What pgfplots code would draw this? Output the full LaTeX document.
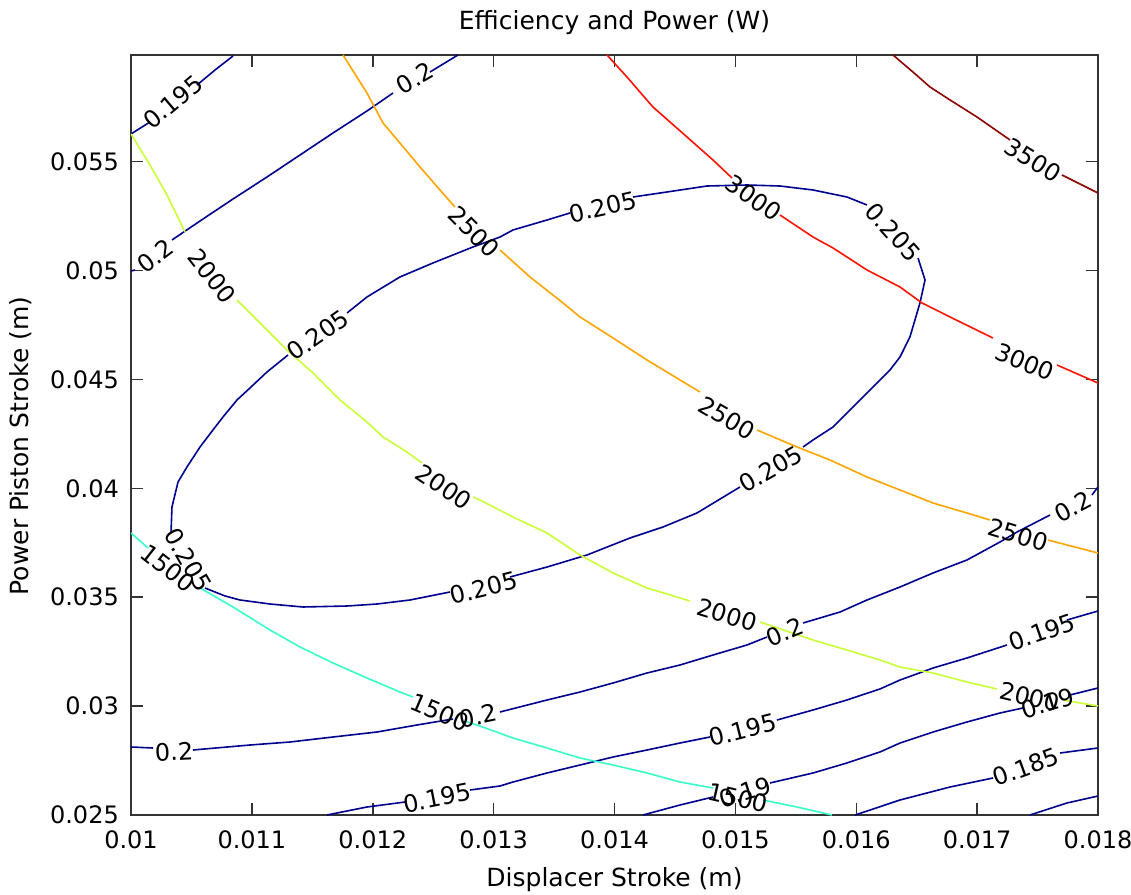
\documentclass[border=0pt]{standalone}
\usepackage{fontspec}
\setmainfont{DejaVu Sans}
\usepackage{pgfplots}
\pgfplotsset{compat=1.18}
\definecolor{effblue}{rgb}{0,0,0.5625}
\definecolor{pw1500}{rgb}{0.2143,1,0.7857}
\definecolor{pw2000}{rgb}{0.7857,1,0.2143}
\definecolor{pw2500}{rgb}{1,0.6429,0}
\definecolor{pw3000}{rgb}{1,0.0714,0}
\definecolor{pw3500}{rgb}{0.55,0,0}
\newcommand{\lblfont}{\fontsize{24}{24}\selectfont}
\newcommand{\ttlfont}{\fontsize{25}{25}\selectfont}
\tikzset{
  eff/.style={draw=effblue, line width=1.6pt, mark=none},
  p15/.style={draw=pw1500, line width=1.6pt, mark=none},
  p20/.style={draw=pw2000, line width=1.6pt, mark=none},
  p25/.style={draw=pw2500, line width=1.6pt, mark=none},
  p30/.style={draw=pw3000, line width=1.6pt, mark=none},
  p35/.style={draw=pw3500, line width=1.6pt, mark=none},
  clab/.style={font=\lblfont, inner sep=0pt, anchor=center, text=black},
}
\begin{document}
\begin{tikzpicture}
\begin{axis}[
  at={(0pt,0pt)}, anchor=south west,
  scale only axis, width=967pt, height=760pt,
  xmin=0.01, xmax=0.018, ymin=0.025, ymax=0.0599,
  xtick={0.01,0.011,0.012,0.013,0.014,0.015,0.016,0.017,0.018},
  xticklabels={0.01,0.011,0.012,0.013,0.014,0.015,0.016,0.017,0.018},
  ytick={0.025,0.03,0.035,0.04,0.045,0.05,0.055},
  yticklabels={0.025,0.03,0.035,0.04,0.045,0.05,0.055},
  scaled ticks=false,
  tick align=inside, tick pos=both,
  major tick length=12pt,
  tick style={black!80, line width=1.5pt},
  axis line style={black!80, line width=1.8pt},
  ticklabel style={font=\lblfont},
  xticklabel style={anchor=base, inner sep=0pt, yshift=-33pt},
  yticklabel style={anchor=east, inner sep=0pt, xshift=-12pt},
  title={Efficiency and Power (W)},
  xlabel={Displacer Stroke (m)},
  ylabel={Power Piston Stroke (m)},
  every axis title/.style={at={(axis description cs:0.5,1)}, anchor=base, yshift=25pt, font=\ttlfont},
  every axis x label/.style={at={(axis description cs:0.5,0)}, anchor=base, yshift=-71pt, font=\ttlfont},
  every axis y label/.style={at={(axis description cs:-0.1065,0.4855)}, rotate=90, anchor=base, font=\ttlfont},
  no markers,
]
% ---------------- efficiency contours ----------------
% 0.195 (upper left)
\addplot[eff] coordinates {(0.010000,0.056272) (0.010157,0.056823)};
\addplot[eff] coordinates {(0.010546,0.058522) (0.010695,0.059211) (0.010844,0.059854)};
% 0.2 (upper)
\addplot[eff] coordinates {(0.010000,0.049981) (0.010033,0.050027)};
\addplot[eff] coordinates {(0.010339,0.051405) (0.010571,0.052277) (0.010844,0.053287) (0.011125,0.054298) (0.011398,0.055308) (0.011671,0.056318) (0.011952,0.057328) (0.012168,0.058155)};
\addplot[eff] coordinates {(0.012474,0.059119) (0.012705,0.059900)};
% 0.205 (closed loop)
\addplot[eff] coordinates {(0.011787,0.048052) (0.011952,0.048787) (0.012225,0.049706) (0.012498,0.050348) (0.012829,0.051083) (0.013053,0.051542) (0.013160,0.051864) (0.013442,0.052323) (0.013632,0.052645)};
\addplot[eff] coordinates {(0.014153,0.053379) (0.014434,0.053609) (0.014765,0.053884) (0.015096,0.053930) (0.015369,0.053884) (0.015642,0.053701) (0.015923,0.053379) (0.016089,0.053012)};
\addplot[eff] coordinates {(0.016511,0.050578) (0.016569,0.049568) (0.016527,0.048512) (0.016444,0.046950) (0.016362,0.046032) (0.016279,0.045435) (0.016139,0.044654) (0.015948,0.043598) (0.015808,0.042817) (0.015642,0.042220) (0.015560,0.041899)};
\addplot[eff] coordinates {(0.015038,0.040062) (0.014682,0.038868) (0.014401,0.038225) (0.014128,0.037720) (0.013772,0.036939) (0.013442,0.036388) (0.013135,0.035929)};
\addplot[eff] coordinates {(0.012639,0.035240) (0.012308,0.034873) (0.012035,0.034689) (0.011787,0.034597) (0.011423,0.034552) (0.011150,0.034689) (0.010902,0.034873) (0.010778,0.035057) (0.010612,0.035424)};
\addplot[eff] coordinates {(0.010331,0.037950) (0.010339,0.039144) (0.010389,0.040292) (0.010463,0.040981) (0.010571,0.041899) (0.010678,0.042680) (0.010761,0.043277) (0.010877,0.044057) (0.010984,0.044608) (0.011125,0.045343) (0.011299,0.046124)};
% 0.2 (lower)
\addplot[eff] coordinates {(0.010000,0.028123) (0.010182,0.028077)};
\addplot[eff] coordinates {(0.010513,0.027985) (0.010984,0.028214) (0.011315,0.028352) (0.011671,0.028582) (0.012035,0.028811) (0.012366,0.029133) (0.012664,0.029408)};
\addplot[eff] coordinates {(0.013053,0.029730) (0.013442,0.030281) (0.013715,0.030648) (0.013988,0.031062) (0.014269,0.031521) (0.014542,0.031888) (0.014815,0.032347) (0.015096,0.032807) (0.015262,0.033174)};
\addplot[eff] coordinates {(0.015560,0.033817) (0.015866,0.034322) (0.016089,0.034873) (0.016362,0.035470) (0.016635,0.036113) (0.016916,0.036710) (0.017189,0.037536) (0.017330,0.037996) (0.017603,0.038776)};
\addplot[eff] coordinates {(0.017950,0.039695) (0.018000,0.040062)};
% 0.195 (middle)
\addplot[eff] coordinates {(0.011621,0.025000) (0.011952,0.025367) (0.012267,0.025597)};
\addplot[eff] coordinates {(0.012805,0.026148) (0.013053,0.026332) (0.013160,0.026515) (0.013442,0.026929) (0.013715,0.027296) (0.013988,0.027663) (0.014269,0.027985) (0.014542,0.028306) (0.014790,0.028582)};
\addplot[eff] coordinates {(0.015344,0.029362) (0.015642,0.029822) (0.015923,0.030281) (0.016196,0.030786) (0.016362,0.031199) (0.016635,0.031750) (0.016916,0.032210) (0.017247,0.032807)};
\addplot[eff] coordinates {(0.017743,0.033955) (0.018000,0.034368)};
% 0.19
\addplot[eff] coordinates {(0.014236,0.025000) (0.014542,0.025459) (0.014815,0.025827)};
\addplot[eff] coordinates {(0.015286,0.026469) (0.015642,0.026929) (0.015923,0.027388) (0.016196,0.027893) (0.016362,0.028306) (0.016635,0.028811) (0.016916,0.029271) (0.017189,0.029684) (0.017379,0.029914)};
\addplot[eff] coordinates {(0.017768,0.030511) (0.018000,0.030832)};
% 0.185
\addplot[eff] coordinates {(0.015990,0.025000) (0.016362,0.025689) (0.016776,0.026286) (0.017131,0.026699)};
\addplot[eff] coordinates {(0.017686,0.027847) (0.018000,0.028077)};
% 0.18
\addplot[eff] coordinates {(0.017437,0.025000) (0.017743,0.025551) (0.018000,0.025872)};
% ---------------- power contours ----------------
% 1500 W
\addplot[p15] coordinates {(0.010000,0.037950) (0.010141,0.037261)};
\addplot[p15] coordinates {(0.010571,0.035424) (0.010844,0.034552) (0.011150,0.033495) (0.011398,0.032715) (0.011671,0.031980) (0.011952,0.031291) (0.012225,0.030648) (0.012333,0.030419)};
\addplot[p15] coordinates {(0.012780,0.029271) (0.012887,0.029087) (0.013160,0.028536) (0.013442,0.028077) (0.013715,0.027617) (0.013988,0.027296) (0.014269,0.026929) (0.014542,0.026515) (0.014815,0.026240)};
\addplot[p15] coordinates {(0.015228,0.025689) (0.015510,0.025367) (0.015799,0.025000)};
% 2000 W
\addplot[p20] coordinates {(0.010000,0.056272) (0.010157,0.054849) (0.010298,0.053471) (0.010447,0.051772)};
\addplot[p20] coordinates {(0.010877,0.048649) (0.010984,0.048052) (0.011125,0.047272) (0.011291,0.046353) (0.011506,0.045297) (0.011729,0.044057) (0.011952,0.043047) (0.012085,0.042358) (0.012283,0.041669) (0.012407,0.041164)};
\addplot[p20] coordinates {(0.012829,0.039603) (0.012887,0.039465) (0.013160,0.038684) (0.013442,0.037950) (0.013715,0.036939) (0.013988,0.036113) (0.014269,0.035424) (0.014434,0.035149) (0.014625,0.034827)};
\addplot[p20] coordinates {(0.015204,0.033863) (0.015642,0.033036) (0.015923,0.032577) (0.016196,0.032118) (0.016362,0.031796) (0.016635,0.031521) (0.016916,0.031107) (0.017164,0.030786)};
\addplot[p20] coordinates {(0.017710,0.030281) (0.018000,0.030005)};
% 2500 W
\addplot[p25] coordinates {(0.011754,0.059900) (0.011952,0.058155) (0.012085,0.056777) (0.012225,0.055859) (0.012391,0.054757) (0.012556,0.053701) (0.012680,0.052920)};
\addplot[p25] coordinates {(0.013053,0.050945) (0.013301,0.049706) (0.013574,0.048512) (0.013715,0.047869) (0.013988,0.046904) (0.014269,0.045894) (0.014542,0.044976) (0.014707,0.044425)};
\addplot[p25] coordinates {(0.015179,0.042680) (0.015510,0.041899) (0.015783,0.041302) (0.016089,0.040521) (0.016362,0.039924) (0.016635,0.039327) (0.016916,0.038868) (0.017107,0.038547)};
\addplot[p25] coordinates {(0.017586,0.037628) (0.018000,0.037031)};
% 3000 W
\addplot[p30] coordinates {(0.013938,0.059900) (0.014103,0.058890) (0.014318,0.057512) (0.014600,0.056134) (0.014815,0.055078) (0.014972,0.054252)};
\addplot[p30] coordinates {(0.015369,0.052553) (0.015642,0.051542) (0.015808,0.051037) (0.016089,0.050027) (0.016362,0.049246) (0.016544,0.048512) (0.016776,0.047869) (0.017131,0.046904)};
\addplot[p30] coordinates {(0.017661,0.045664) (0.018000,0.044838)};
% 3500 W
\addplot[p35] coordinates {(0.016304,0.059900) (0.016469,0.059119) (0.016610,0.058431) (0.016776,0.057834) (0.016999,0.057053) (0.017189,0.056318) (0.017272,0.055997)};
\addplot[p35] coordinates {(0.017702,0.054389) (0.018000,0.053563)};
% ---------------- contour labels ----------------
\node[clab, rotate=40]  at (axis cs:0.010347,0.057742) {0.195};
\node[clab, rotate=37]  at (axis cs:0.010199,0.050670) {0.2};
\node[clab, rotate=30]  at (axis cs:0.012350,0.058844) {0.2};
\node[clab, rotate=-52] at (axis cs:0.010670,0.049752) {2000};
\node[clab, rotate=-45] at (axis cs:0.012838,0.051772) {2500};
\node[clab, rotate=13]  at (axis cs:0.013905,0.052920) {0.205};
\node[clab, rotate=-35] at (axis cs:0.015154,0.053333) {3000};
\node[clab, rotate=-48] at (axis cs:0.016304,0.051772) {0.205};
\node[clab, rotate=-32] at (axis cs:0.017462,0.055078) {3500};
\node[clab, rotate=35]  at (axis cs:0.011547,0.047042) {0.205};
\node[clab, rotate=-22] at (axis cs:0.017396,0.045802) {3000};
\node[clab, rotate=-30] at (axis cs:0.014931,0.043231) {2500};
\node[clab, rotate=30]  at (axis cs:0.015295,0.040889) {0.205};
\node[clab, rotate=-34] at (axis cs:0.012589,0.040062) {2000};
\node[clab, rotate=14]  at (axis cs:0.012920,0.035424) {0.205};
\node[clab, rotate=28]  at (axis cs:0.017793,0.039144) {0.2};
\node[clab, rotate=-17] at (axis cs:0.017338,0.037858) {2500};
\node[clab, rotate=-17] at (axis cs:0.014931,0.034184) {2000};
\node[clab, rotate=22]  at (axis cs:0.015411,0.033404) {0.2};
\node[clab, rotate=19]  at (axis cs:0.017537,0.033404) {0.195};
\node[clab, rotate=14]  at (axis cs:0.015063,0.028903) {0.195};
\node[clab, rotate=-13] at (axis cs:0.017437,0.030419) {2000};
\node[clab, rotate=17]  at (axis cs:0.017586,0.030143) {0.19};
\node[clab, rotate=20]  at (axis cs:0.017404,0.027204) {0.185};
\node[clab, rotate=11]  at (axis cs:0.012532,0.025781) {0.195};
\node[clab, rotate=-23] at (axis cs:0.012556,0.029730) {1500};
\node[clab, rotate=12]  at (axis cs:0.012871,0.029546) {0.2};
\node[clab, rotate=-13] at (axis cs:0.015022,0.025781) {1500};
\node[clab, rotate=17]  at (axis cs:0.015080,0.026056) {0.19};
\node[clab, rotate=3]   at (axis cs:0.010356,0.027893) {0.2};
\node[clab, rotate=-38] at (axis cs:0.010306,0.036342) {1500};
\node[clab, rotate=-60] at (axis cs:0.010472,0.036710) {0.205};
\end{axis}
\pgfresetboundingbox
\path[use as bounding box] (-131pt,-79pt) rectangle (1000pt,815pt);
\end{tikzpicture}
\end{document}
